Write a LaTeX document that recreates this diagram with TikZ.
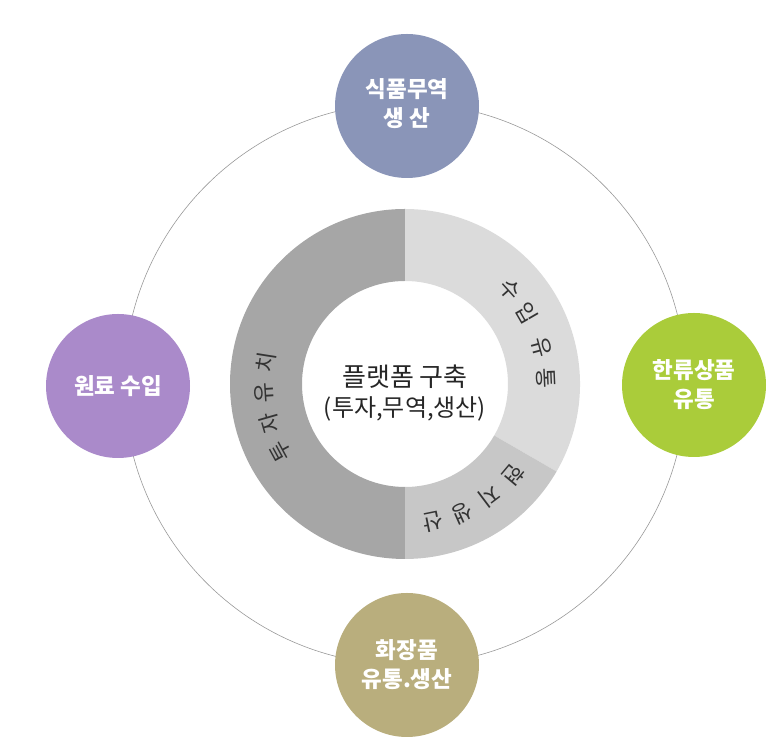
\documentclass[tikz,border=0pt]{standalone}
\usepackage{fontspec}
\setmainfont{Noto Sans CJK KR}
\usepackage{tikz}
\usetikzlibrary{positioning}

\definecolor{foodblue}{RGB}{138,149,184}
\definecolor{rawpurple}{RGB}{170,138,202}
\definecolor{hallyugreen}{RGB}{170,204,58}
\definecolor{cosmkhaki}{RGB}{185,174,125}
\definecolor{ringdark}{RGB}{166,166,166}
\definecolor{ringlight}{RGB}{219,219,219}
\definecolor{ringmid}{RGB}{199,199,199}

\begin{document}
\begin{tikzpicture}[x=1pt, y=1pt,
        bubble/.style={circle, minimum size=144pt, inner sep=0pt, text=white,
            font=\bfseries\fontsize{22.5}{29}\selectfont, align=center},
        ringtxt/.style={inner sep=0pt, text=black!80, font=\fontsize{22}{22}\selectfont},
        midtxt/.style={inner sep=0pt, text=black!85}]
    %% 一些宏定义
    \def\Rin{103pt}
    \def\Rout{175pt}
    \def\Rmid{141pt}
    %% 定义ringpart命令
    \newcommand{\ringpart}[3]{
        \fill[#3] ([shift={(C)}]#1:\Rout) arc[start angle=#1, end angle=#2, radius=\Rout]
            -- ([shift={(C)}]#2:\Rin) arc[start angle=#2, end angle=#1, radius=\Rin] -- cycle;
    }
    \useasboundingbox (0,0) rectangle (772,746);
    \coordinate (C) at (405,362);

    %% 外圈细线
    \draw[line width=0.6pt, black!40] (C) circle [radius=281pt];

    %% 四个圆
    \node[bubble, fill=foodblue] (food) at (407,640)
        {\raisebox{-8pt}{\begin{tabular}{@{}c@{}}식품무역\\생 산\end{tabular}}};
    \node[bubble, fill=rawpurple] (raw) at (118,360) {원료 수입};
    \node[bubble, fill=hallyugreen] (hallyu) at (694,361) {한류상품\\유통};
    \node[bubble, fill=cosmkhaki] (cosm) at (407,81) {화장품\\유통.생산};

    %% 中间的圆环
    \ringpart{90}{270}{ringdark}
    \ringpart{-30}{90}{ringlight}
    \ringpart{-90}{-30}{ringmid}

    %% 圆环上的字
    \foreach \a/\ch [count=\i] in {208.5/투, 196/자, 183.5/유, 171/치}{
        \node[ringtxt, rotate=\a-90] (inv\i) at ([shift={(C)}]\a:\Rmid) {\ch};
    }
    \foreach \a/\ch [count=\i] in {42/수, 30/입, 15/유, 2.5/통}{
        \node[ringtxt, rotate=\a-90] (imp\i) at ([shift={(C)}]\a:\Rmid) {\ch};
    }
    \foreach \a/\ch [count=\i] in {-40/현, -53/지, -66/생, -78.5/산}{
        \node[ringtxt, rotate=\a-90] (loc\i) at ([shift={(C)}]\a:\Rmid) {\ch};
    }

    %% 中心文字
    \node[midtxt, font=\fontsize{26}{26}\selectfont] (title) at (405,369) {플랫폼 구축};
    \node[midtxt, font=\fontsize{24}{24}\selectfont] (subtitle) at (405,337) {(투자,무역,생산)};
\end{tikzpicture}
\end{document}
